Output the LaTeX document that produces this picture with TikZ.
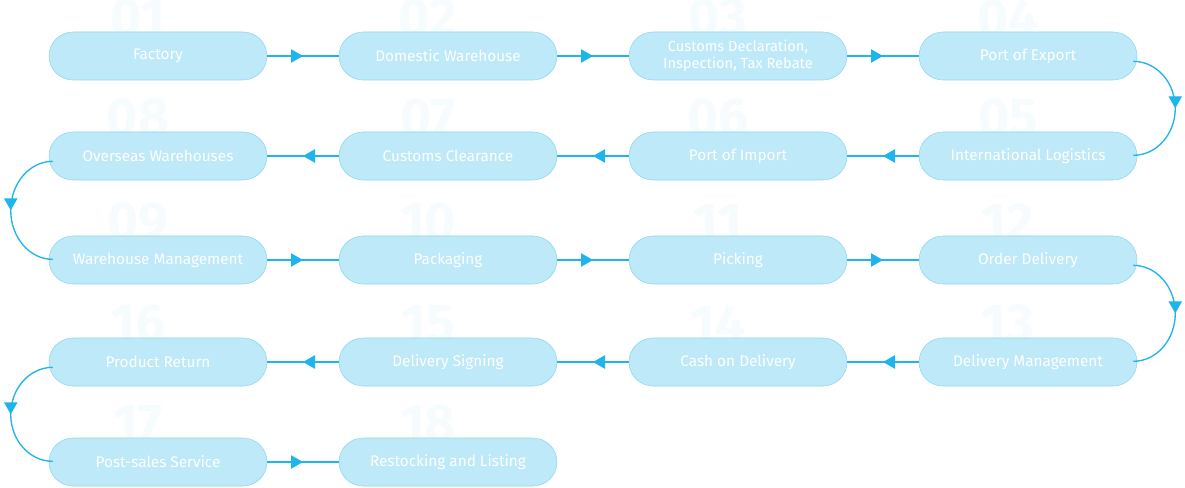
\documentclass[tikz,border=0pt]{standalone}
\usepackage{fontspec}
\setmainfont{Fira Sans}
\usetikzlibrary{decorations.markings,arrows.meta}
\definecolor{nfill}{HTML}{BDE9F8}
\definecolor{ndraw}{HTML}{8DD6F3}
\definecolor{lnk}{HTML}{1EB4EC}
\definecolor{num}{HTML}{F6FBFE}
\begin{document}
\begin{tikzpicture}[x=0.75pt,y=-0.75pt,
 box/.style={draw=ndraw,fill=nfill,rounded corners=18pt,minimum width=163.5pt,minimum height=36pt,text=white,font=\fontsize{11.5}{12.5}\selectfont,align=center,inner sep=1pt},
 numb/.style={text=num,font=\fontsize{40}{40}\selectfont\bfseries},
 link/.style={draw=lnk,line width=1pt,postaction={decorate},decoration={markings,mark=at position 0.5 with {\arrow{Triangle[length=9pt,width=10pt]}}}}]
\useasboundingbox (0,0) rectangle (1185,488);
\foreach \n/\x/\y in {01/158/56,02/448/56,03/738/56,04/1028/56,08/158/156,07/448/156,06/738/156,05/1028/156,09/158/260,10/448/260,11/738/260,12/1028/260,16/158/362,15/448/362,14/738/362,13/1028/362,17/158/462,18/448/462}
  \node[numb] (n\n) at (\x-20,\y-38) {\n};
\node[box] (a1) at (158,56) {Factory};
\node[box] (a2) at (448,56) {Domestic Warehouse};
\node[box,font=\fontsize{11}{12.5}\selectfont] (a3) at (738,56) {Customs Declaration,\\Inspection, Tax Rebate};
\node[box] (a4) at (1028,56) {Port of Export};
\node[box] (a5) at (1028,156) {International Logistics};
\node[box] (a6) at (738,156) {Port of Import};
\node[box] (a7) at (448,156) {Customs Clearance};
\node[box] (a8) at (158,156) {Overseas Warehouses};
\node[box] (a9) at (158,260) {Warehouse Management};
\node[box] (a10) at (448,260) {Packaging};
\node[box] (a11) at (738,260) {Picking};
\node[box] (a12) at (1028,260) {Order Delivery};
\node[box] (a13) at (1028,362) {Delivery Management};
\node[box] (a14) at (738,362) {Cash on Delivery};
\node[box] (a15) at (448,362) {Delivery Signing};
\node[box] (a16) at (158,362) {Product Return};
\node[box] (a17) at (158,462) {Post-sales Service};
\node[box] (a18) at (448,462) {Restocking and Listing};
\foreach \a/\b in {a1/a2,a2/a3,a3/a4,a5/a6,a6/a7,a7/a8,a9/a10,a10/a11,a11/a12,a13/a14,a14/a15,a15/a16,a17/a18}
  \path[link] (\a) -- (\b);
\path[link] ([xshift=-3pt,yshift=-4pt]a4.east) arc[start angle=-90,end angle=90,x radius=42,y radius=47];
\path[link] ([xshift=-3pt,yshift=-4pt]a12.east) arc[start angle=-90,end angle=90,x radius=42,y radius=48];
\path[link] ([xshift=3pt,yshift=-4pt]a8.west) arc[start angle=-90,end angle=-270,x radius=42,y radius=49];
\path[link] ([xshift=3pt,yshift=-4pt]a16.west) arc[start angle=-90,end angle=-270,x radius=42,y radius=47];
\end{tikzpicture}
\end{document}
